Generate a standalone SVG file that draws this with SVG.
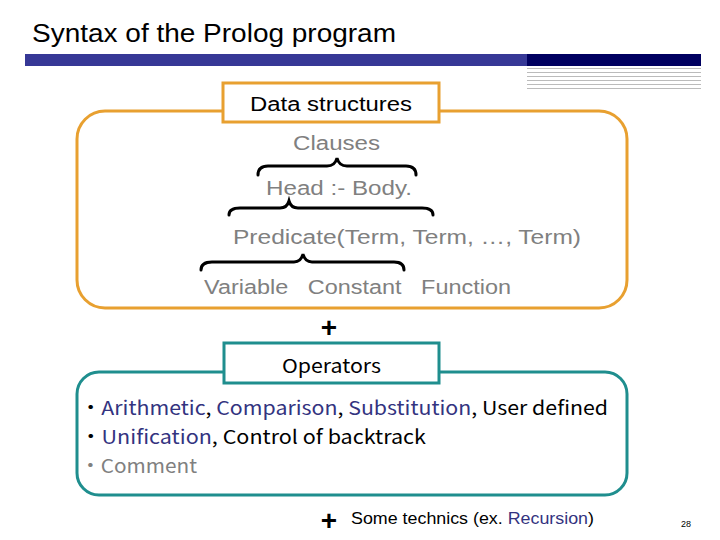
<svg xmlns="http://www.w3.org/2000/svg" width="720" height="540" viewBox="0 0 720 540">
<style>
.t{font-family:"Liberation Sans",Arial,sans-serif}
.j{font-family:"Noto Sans CJK JP","Liberation Sans",sans-serif}
.g{fill:#808080}
.b{fill:#333380}
.plus{font-family:"Liberation Sans",Arial,sans-serif;font-size:28px;font-weight:bold;fill:#000;text-anchor:middle}
.brace{fill:none;stroke:#000;stroke-width:3;stroke-linecap:round}
.or{fill:none;stroke:#E8A030;stroke-width:3}
.te{fill:none;stroke:#1F8E8E;stroke-width:3}
.gl{stroke:#BBBBBB;stroke-width:1}
</style>
<rect width="720" height="540" fill="#fff"/>
<text class="t" x="32" y="42" font-size="26" fill="#000" textLength="364" lengthAdjust="spacingAndGlyphs">Syntax of the Prolog program</text>
<rect x="25" y="54" width="502" height="12" fill="#363896"/>
<rect x="527" y="54" width="174" height="12" fill="#000060"/>
<g class="gl">
<line x1="527" y1="68.5" x2="701" y2="68.5"/>
<line x1="527" y1="72.5" x2="701" y2="72.5"/>
<line x1="527" y1="76.5" x2="701" y2="76.5"/>
<line x1="527" y1="80.5" x2="701" y2="80.5"/>
<line x1="527" y1="84.5" x2="701" y2="84.5"/>
<line x1="527" y1="88.5" x2="701" y2="88.5"/>
</g>
<g id="data-structures">
<rect class="or" x="77" y="111" width="550" height="197" rx="28"/>
<rect x="223" y="83" width="216" height="39" fill="#fff" stroke="#E8A030" stroke-width="3"/>
<text class="t" x="250" y="111" font-size="20" fill="#000" textLength="162" lengthAdjust="spacingAndGlyphs">Data structures</text>
<text class="t g" x="293" y="150" font-size="20" textLength="87" lengthAdjust="spacingAndGlyphs">Clauses</text>
<text class="t g" x="266" y="195" font-size="20" textLength="146" lengthAdjust="spacingAndGlyphs">Head :- Body.</text>
<text class="t g" x="233" y="244" font-size="20" textLength="348" lengthAdjust="spacingAndGlyphs">Predicate(Term, Term, …, Term)</text>
<text class="t g" x="204" y="294" font-size="20" xml:space="preserve" textLength="307" lengthAdjust="spacingAndGlyphs">Variable   Constant   Function</text>
</g>
<g id="connectors">
<path class="brace" d="M258,175 Q258,166 268,166 L327,166 Q335,166 337,158 Q339,166 347,166 L406,166 Q416,166 416,175"/>
<path class="brace" d="M229,215 Q229,208 240,208 L280,208 Q287,208 289,201 Q291,208 298,208 L422,208 Q433,208 433,215"/>
<path class="brace" d="M201,270 Q201,262 212,262 L294,262 Q301,262 303,254 Q305,262 312,262 L394,262 Q404,262 404,270"/>
</g>
<text class="plus" x="329" y="337">+</text>
<g id="operators">
<rect class="te" x="77" y="372" width="550" height="123" rx="22"/>
<rect x="224" y="343" width="215" height="40" fill="#fff" stroke="#1F8E8E" stroke-width="3"/>
<text class="j" x="282" y="373" font-size="19" fill="#000" textLength="99" lengthAdjust="spacingAndGlyphs">Operators</text>
<text class="j" x="80" y="415" font-size="19" fill="#000" textLength="528" lengthAdjust="spacingAndGlyphs">・<tspan class="b">Arithmetic</tspan>, <tspan class="b">Comparison</tspan>, <tspan class="b">Substitution</tspan>, User defined</text>
<text class="j" x="80" y="444" font-size="19" fill="#000" textLength="346" lengthAdjust="spacingAndGlyphs">・<tspan class="b">Unification</tspan>, Control of backtrack</text>
<text class="j g" x="80" y="473" font-size="19" textLength="117" lengthAdjust="spacingAndGlyphs">・Comment</text>
</g>
<g id="technics">
<text class="plus" x="329" y="530">+</text>
<text class="t" x="351" y="524" font-size="16" fill="#000" textLength="243" lengthAdjust="spacingAndGlyphs">Some technics (ex. <tspan class="b">Recursion</tspan>)</text>
</g>
<text class="t" x="681" y="527" font-size="9" fill="#000">28</text>
</svg>
